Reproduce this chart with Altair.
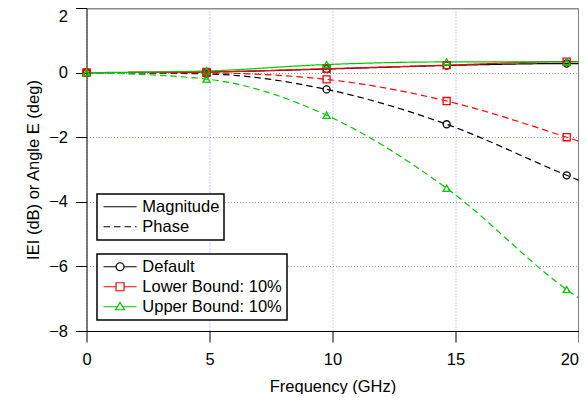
import altair as alt
import pandas as pd

# ---- data ----
freq = [0.0, 4.88, 9.76, 14.64, 19.52, 20.0]
n_markers = 5  # markers drawn at the first five sample points

series = ["Default", "Lower Bound: 10%", "Upper Bound: 10%"]
kinds = ["Magnitude", "Phase"]

mag_default = [0.0, 0.02, 0.11, 0.22, 0.28, 0.28]
mag_lower = [0.0, 0.02, 0.12, 0.23, 0.34, 0.34]
mag_upper = [0.0, 0.05, 0.25, 0.33, 0.33, 0.34]

phase_default = [0.0, -0.04, -0.52, -1.60, -3.18, -3.33]
phase_lower = [0.0, -0.01, -0.21, -0.88, -2.00, -2.12]
phase_upper = [0.0, -0.20, -1.32, -3.58, -6.72, -6.98]

x_ticks = [0, 5, 10, 15, 20]
y_ticks = [-8, -6, -4, -2, 0, 2]

# ---- styling ----
colors = ["#000000", "#ff0000", "#00c800"]
shapes = ["circle", "square", "triangle-up"]
dashes = [[1, 0], [6.5, 4]]
legend_paths = [
    "M-3.3,0H-0.8M0.8,0H3.3M-0.8,0A0.8,0.8 0 1,0 0.8,0A0.8,0.8 0 1,0 -0.8,0Z",
    "M-3.3,0H-0.8M0.8,0H3.3M-0.8,-0.8H0.8V0.8H-0.8Z",
    "M-3.3,0H-0.55M0.55,0H3.3M0,-0.85L0.9,0.6H-0.9Z",
]
FONT = "Liberation Sans"
FS = 16.5
grid_color = "#7c7cff"

rows = []
for s, mag, ph in zip(series, [mag_default, mag_lower, mag_upper],
                      [phase_default, phase_lower, phase_upper]):
    for i, f in enumerate(freq):
        rows.append(dict(freq=f, value=mag[i], series=s, kind="Magnitude", marker=i < n_markers))
        rows.append(dict(freq=f, value=ph[i], series=s, kind="Phase", marker=i < n_markers))
df = pd.DataFrame(rows)
mk = df[df["marker"]].drop(columns="marker")
df = df.drop(columns="marker")

x_scale = alt.Scale(domain=[0, 20], nice=False, zero=False)
y_scale = alt.Scale(domain=[-8, 2], nice=False, zero=False)
color_scale = alt.Scale(domain=series, range=colors)
dash_scale = alt.Scale(domain=kinds, range=dashes)


def cond(test, a, b):
    return {"condition": {"test": test, "value": a}, "value": b}


x_axis = alt.Axis(
    values=x_ticks, tickSize=11, tickColor="black", domainColor="black",
    labelFontSize=FS, labelFont=FONT, labelColor="black", labelPadding=9,
    labelFlush=False, labelAlign=cond("datum.value == 20", "right", "center"),
    title="Frequency (GHz)", titleFontSize=FS, titleFont=FONT, titleFontWeight="normal",
    titleColor="black", titlePadding=11,
    grid=True,
    gridColor=cond("datum.value == 20", "#000000", grid_color),
    gridDash=cond("datum.value == 20", [], [1, 2]),
    gridOpacity=cond("datum.value == 20", 1, 0.8),
)
y_axis = alt.Axis(
    values=y_ticks, tickSize=11, tickColor="black", domainColor="black",
    labelFontSize=FS, labelFont=FONT, labelColor="black", labelPadding=8,
    labelBaseline=cond("datum.value == 2", "top", "middle"),
    title="IEI (dB) or Angle E (deg)", titleFontSize=FS, titleFont=FONT,
    titleFontWeight="normal", titleColor="black", titlePadding=7,
    grid=True,
    gridColor=cond("datum.value == 2", "#8c8c8c", grid_color),
    gridDash=cond("datum.value == 2", [], [1, 2]),
    gridWidth=cond("datum.value == 2", 2, 1),
    gridOpacity=cond("datum.value == 2", 1, 0.8),
)

common_legend = dict(
    orient="none", title=None, symbolSize=100, symbolStrokeWidth=1.2,
    labelFontSize=FS, labelFont=FONT, labelColor="black", padding=4.5, rowPadding=3,
    strokeColor="black", fillColor="white", cornerRadius=0,
    symbolOffset=10.3, labelOffset=14, symbolOpacity=1,
)
leg1 = alt.Legend(legendX=10.5, legendY=186, symbolType="M-3.3,0H3.3",
                  symbolStrokeColor="black", **common_legend)
leg2 = alt.Legend(legendX=10.5, legendY=246, **common_legend)

layers = []
# lines: one layer per series (fixed colour), dash by kind
for s, c in zip(series, colors):
    layers.append(
        alt.Chart(df).transform_filter(alt.datum.series == s)
        .mark_line(interpolate="monotone", strokeWidth=1.2, color=c)
        .encode(
            x=alt.X("freq:Q", scale=x_scale, axis=x_axis),
            y=alt.Y("value:Q", scale=y_scale, axis=y_axis),
            strokeDash=alt.StrokeDash("kind:N", scale=dash_scale, legend=leg1),
            detail="kind:N",
        )
    )
# markers
for s, c, shp in zip(series, colors, shapes):
    layers.append(
        alt.Chart(mk).transform_filter(alt.datum.series == s)
        .mark_point(shape=shp, filled=False, size=50, strokeWidth=1.3, opacity=1, color=c)
        .encode(x=alt.X("freq:Q"), y=alt.Y("value:Q"))
    )
# invisible layer carrying the series legend (line + marker symbols)
layers.append(
    alt.Chart(mk).mark_point(opacity=0, filled=False).encode(
        x=alt.X("freq:Q"),
        y=alt.Y("value:Q"),
        color=alt.Color("series:N", scale=color_scale, legend=leg2),
        shape=alt.Shape("series:N", scale=alt.Scale(domain=series, range=legend_paths), legend=leg2),
    )
)

chart = (
    alt.layer(*layers)
    .properties(
        width=492, height=323,
        autosize=alt.AutoSizeParams(type="none"),
        padding={"left": 78.5, "top": 0, "right": 0, "bottom": 63},
        background="white",
    )
    .configure_view(stroke=None)
    .configure_legend(strokeWidth=1.5)
)

chart.save("out.html", embed_options={"renderer": "svg", "actions": False})
